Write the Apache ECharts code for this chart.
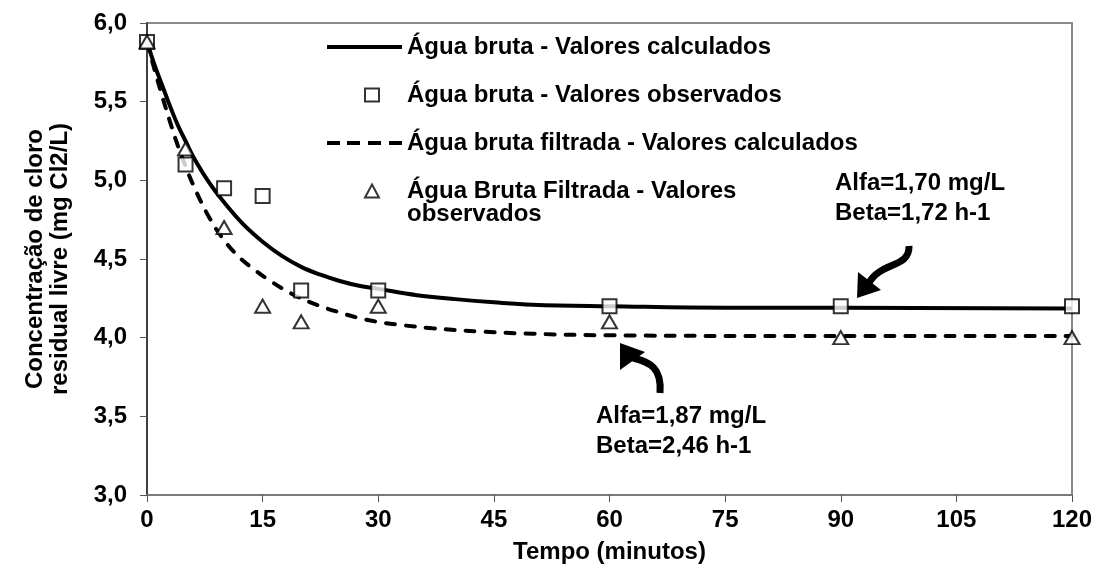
<!DOCTYPE html>
<html>
<head>
<meta charset="utf-8">
<script src="https://cdn.jsdelivr.net/npm/echarts@6/dist/echarts.min.js"></script>
<style>
  html, body { margin: 0; padding: 0; background: #fff; }
  #chart { width: 1101px; height: 574px; }
</style>
</head>
<body>
<div id="chart"></div>
<script>
// Free residual chlorine decay over time (minutes)
const xTicks = [0, 15, 30, 45, 60, 75, 90, 105, 120];
const yTicks = ['3,0', '3,5', '4,0', '4,5', '5,0', '5,5', '6,0'];

const seriesNames = [
  'Água bruta - Valores calculados',
  'Água bruta - Valores observados',
  'Água bruta filtrada - Valores calculados',
  'Água Bruta Filtrada - Valores observados'
];
// the last legend entry wraps onto a second line
const legendWrap = ['Água Bruta Filtrada - Valores', 'observados'];

// Model curve, raw water
const brutaCalc = [
  [0, 5.88], [1, 5.73], [2, 5.60], [3, 5.47], [4, 5.35], [5, 5.25], [6, 5.15],
  [8, 4.99], [10, 4.86], [12.5, 4.72], [15, 4.61], [17.5, 4.52], [20, 4.45],
  [22.5, 4.40], [25, 4.36], [27.5, 4.33], [30, 4.31], [35, 4.27], [40, 4.245],
  [45, 4.225], [50, 4.21], [60, 4.20], [75, 4.19], [90, 4.19], [120, 4.185]
];
// Measured points, raw water
const brutaObs = [
  [0, 5.88], [5, 5.10], [10, 4.95], [15, 4.90], [20, 4.30],
  [30, 4.30], [60, 4.20], [90, 4.20], [120, 4.20]
];
// Model curve, filtered raw water
const filtradaCalc = [
  [0, 5.88], [1, 5.70], [2, 5.53], [3, 5.37], [4, 5.22], [5, 5.09], [6, 4.97],
  [8, 4.77], [10, 4.62], [12, 4.51], [14, 4.43], [16, 4.36], [18, 4.30],
  [20, 4.25], [22.5, 4.20], [25, 4.16], [27.5, 4.125], [30, 4.10], [33, 4.08],
  [37, 4.06], [43, 4.04], [50, 4.025], [60, 4.015], [90, 4.01], [120, 4.01]
];
// Measured points, filtered raw water
const filtradaObs = [
  [0, 5.88], [5, 5.20], [10, 4.70], [15, 4.20], [20, 4.10],
  [30, 4.20], [60, 4.10], [90, 4.00], [120, 4.00]
];

const annotations = [
  ['Alfa=1,70 mg/L', 'Beta=1,72 h-1'],
  ['Alfa=1,87 mg/L', 'Beta=2,46 h-1']
];

const FONT = '"Liberation Sans", Arial, sans-serif';
const FS = 24;
const chart = echarts.init(document.getElementById('chart'), null, { renderer: 'canvas' });

const legendText = { fontFamily: FONT, fontWeight: 'bold', fontSize: FS, color: '#000' };
const solidIcon = 'path://M0,0H75V4H0Z';
const dashIcon = 'path://M0,0H13V4H0ZM20,0H33V4H20ZM41,0H54V4H41ZM62,0H75V4H62Z';

function lineLegend(name, icon, top) {
  return {
    data: [{ name: name, icon: icon }],
    left: 322, top: top, itemWidth: 75, itemHeight: 18,
    textStyle: legendText, selectedMode: false
  };
}
function markerLegend(name, top, formatter) {
  return {
    data: [name],
    left: 359, top: top, itemWidth: 14, itemHeight: 13,
    textStyle: Object.assign({}, legendText, { padding: [0, 0, 0, 23] }),
    formatter: formatter, selectedMode: false
  };
}

const option = {
  animation: false,
  backgroundColor: '#fff',
  grid: {
    left: 147, right: 29, top: 23, bottom: 79,
    show: true, borderColor: '#8a8a8a', borderWidth: 2, backgroundColor: 'transparent'
  },
  legend: [
    lineLegend(seriesNames[0], solidIcon, 30),
    markerLegend(seriesNames[1], 78),
    lineLegend(seriesNames[2], dashIcon, 126),
    markerLegend(seriesNames[3], 174, function () { return legendWrap[0]; })
  ],
  xAxis: {
    type: 'value', min: 0, max: 120, interval: 15,
    name: 'Tempo (minutos)', nameLocation: 'middle', nameGap: 45,
    nameTextStyle: { fontFamily: FONT, fontWeight: 'bold', fontSize: FS, color: '#000' },
    axisLine: { lineStyle: { color: '#7a7a7a', width: 2 } },
    axisTick: { show: true, inside: false, length: 7, lineStyle: { color: '#555', width: 1 } },
    axisLabel: { fontFamily: FONT, fontWeight: 'bold', fontSize: FS, color: '#000', margin: 13,
      formatter: function (v) { return xTicks.indexOf(v) >= 0 ? String(v) : ''; } },
    splitLine: { show: false }
  },
  yAxis: {
    type: 'value', min: 3, max: 6, interval: 0.5,
    name: 'Concentração de cloro\nresidual livre (mg Cl2/L)', nameLocation: 'middle', nameGap: 74,
    nameRotate: 90,
    nameTextStyle: { fontFamily: FONT, fontWeight: 'bold', fontSize: FS, color: '#000', lineHeight: 25 },
    axisLine: { show: true, lineStyle: { color: '#404040', width: 2 } },
    axisTick: { show: true, inside: false, length: 7, lineStyle: { color: '#555', width: 1 } },
    axisLabel: { fontFamily: FONT, fontWeight: 'bold', fontSize: FS, color: '#000', margin: 20,
      formatter: function (v) { return yTicks[Math.round((v - 3) / 0.5)]; } },
    splitLine: { show: false }
  },
  series: [
    {
      name: seriesNames[0], type: 'line', data: brutaCalc, smooth: 0.4,
      showSymbol: false, symbol: 'none', z: 2,
      lineStyle: { color: '#000', width: 4 }, itemStyle: { color: '#000' }
    },
    {
      name: seriesNames[2], type: 'line', data: filtradaCalc, smooth: 0.4,
      showSymbol: false, symbol: 'none', z: 2,
      lineStyle: { color: '#000', width: 4, type: [9, 11], cap: 'round' }, itemStyle: { color: '#000' }
    },
    {
      name: seriesNames[1], type: 'scatter', data: brutaObs, symbol: 'rect', symbolSize: 14, z: 3,
      itemStyle: { color: '#fff', borderColor: '#000', borderWidth: 2 }
    },
    {
      name: seriesNames[3], type: 'scatter', data: filtradaObs, symbol: 'triangle', symbolSize: [15, 13], z: 4,
      itemStyle: { color: '#fff', borderColor: '#000', borderWidth: 2 }
    }
  ]
};
chart.setOption(option);

// Parameter labels with curved pointer arrows, plus the wrapped legend line
const annText = { fontFamily: FONT, fontWeight: 'bold', fontSize: FS, fill: '#000', lineHeight: 30 };
chart.setOption({
  graphic: [
    { type: 'text', left: 407, top: 202,
      style: { text: legendWrap[1], fontFamily: FONT, fontWeight: 'bold', fontSize: FS, fill: '#000' }, z: 10 },
    { type: 'text', left: 835, top: 168, style: Object.assign({ text: annotations[0].join('\n') }, annText), z: 10 },
    { type: 'text', left: 596, top: 401, style: Object.assign({ text: annotations[1].join('\n') }, annText), z: 10 },
    // upper arrow: tail near the label, head pointing down-left
    { type: 'bezierCurve', shape: { x1: 909, y1: 246, x2: 869, y2: 283, cpx1: 910, cpy1: 268, cpx2: 880, cpy2: 262 },
      style: { stroke: '#000', lineWidth: 7, fill: null }, z: 10 },
    { type: 'polygon', shape: { points: [[857, 298], [858, 272], [881, 290]] }, style: { fill: '#000' }, z: 10 },
    // lower arrow: tail below, head pointing up-left
    { type: 'bezierCurve', shape: { x1: 660, y1: 393, x2: 633, y2: 358, cpx1: 662, cpy1: 368, cpx2: 650, cpy2: 362 },
      style: { stroke: '#000', lineWidth: 7, fill: null }, z: 10 },
    { type: 'polygon', shape: { points: [[620, 343], [620, 370], [645, 352]] }, style: { fill: '#000' }, z: 10 }
  ]
});
</script>
</body>
</html>
